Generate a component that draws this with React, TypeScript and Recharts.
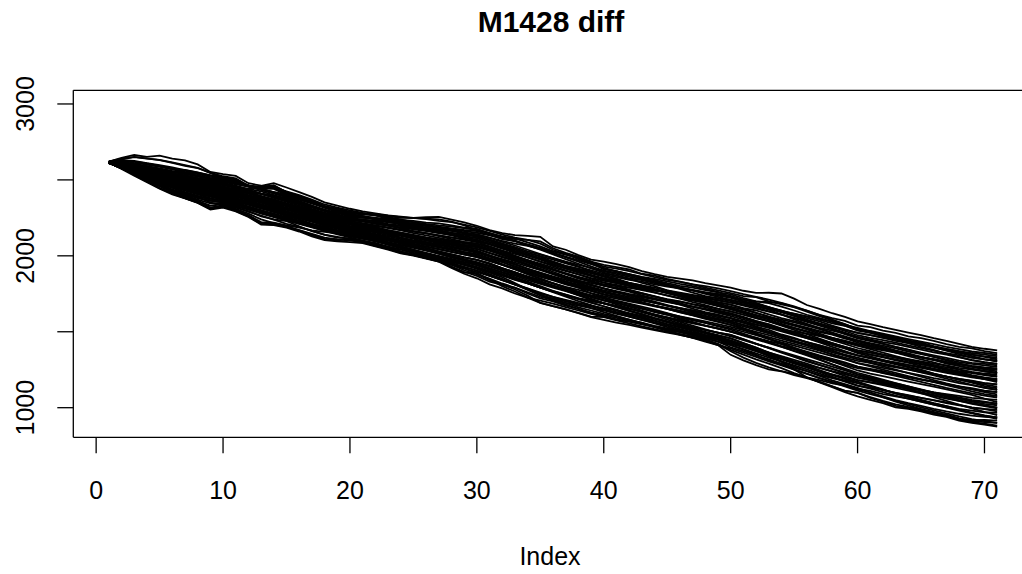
import React from 'react';
import { LineChart, Line, XAxis, YAxis, ReferenceLine } from 'recharts';

const TITLE = 'M1428 diff';
const X_LABEL = 'Index';

const INDEX = [
  1, 2, 3, 4, 5, 6, 7, 8, 9, 10,
  11, 12, 13, 14, 15, 16, 17, 18, 19, 20,
  21, 22, 23, 24, 25, 26, 27, 28, 29, 30,
  31, 32, 33, 34, 35, 36, 37, 38, 39, 40,
  41, 42, 43, 44, 45, 46, 47, 48, 49, 50,
  51, 52, 53, 54, 55, 56, 57, 58, 59, 60,
  61, 62, 63, 64, 65, 66, 67, 68, 69, 70, 71,
];

const X_TICKS = [0, 10, 20, 30, 40, 50, 60, 70];
const Y_TICKS = [1000, 1500, 2000, 2500, 3000];
const Y_LABELED = [1000, 2000, 3000];

const S01 = [2620,2645,2664,2652,2660,2640,2628,2602,2552,2538,2526,2478,2462,2450,2425,2400,2370,2338,2318,2300,2282,2268,2240,2220,2200,2180,2160,2143,2118,2092,2079,2050,2024,2008,1981,1962,1934,1915,1895,1868,1850,1822,1806,1779,1760,1741,1712,1698,1670,1650,1631,1604,1590,1562,1540,1522,1498,1481,1455,1438,1412,1395,1370,1352,1330,1314,1290,1276,1255,1240,1228];
const S02 = [2612,2598,2585,2570,2556,2538,2520,2509,2486,2470,2452,2440,2461,2478,2450,2420,2388,2352,2331,2310,2292,2280,2266,2258,2250,2254,2257,2238,2220,2198,2170,2150,2136,2131,2125,2062,2040,2005,1975,1962,1945,1925,1900,1880,1862,1850,1838,1820,1805,1790,1770,1756,1757,1752,1718,1676,1650,1622,1598,1568,1550,1530,1512,1495,1478,1458,1440,1420,1400,1388,1378];
const S03 = [2617,2608,2590,2583,2566,2551,2540,2529,2512,2502,2480,2465,2440,2418,2392,2371,2345,2322,2298,2270,2262,2240,2230,2211,2195,2186,2170,2152,2130,2116,2090,2072,2045,2020,1998,1975,1950,1928,1905,1882,1870,1851,1840,1820,1806,1788,1772,1755,1738,1723,1700,1685,1662,1640,1618,1600,1578,1556,1538,1517,1502,1480,1465,1442,1428,1405,1385,1370,1350,1334,1319];
const S04 = [2614,2601,2585,2570,2548,2530,2515,2498,2482,2469,2450,2432,2410,2390,2368,2340,2318,2296,2270,2249,2238,2226,2210,2198,2185,2172,2162,2150,2141,2134,2108,2080,2051,2020,1995,1960,1930,1902,1870,1843,1820,1800,1780,1760,1738,1718,1695,1675,1652,1634,1612,1590,1570,1548,1525,1505,1480,1460,1440,1418,1400,1385,1366,1350,1332,1318,1300,1290,1274,1262,1254];
const S05 = [2612,2596,2574,2560,2535,2518,2500,2482,2465,2447,2425,2400,2381,2355,2330,2302,2280,2258,2230,2207,2190,2178,2160,2150,2132,2120,2108,2100,2090,2081,2060,2035,2012,1990,1962,1940,1915,1890,1868,1843,1828,1812,1790,1775,1755,1738,1720,1706,1692,1679,1655,1640,1615,1590,1570,1548,1525,1508,1488,1467,1450,1432,1418,1400,1382,1365,1350,1332,1315,1300,1289];
const S06 = [2615,2590,2570,2548,2522,2505,2480,2462,2440,2425,2400,2382,2360,2340,2318,2300,2275,2260,2238,2217,2198,2180,2160,2145,2128,2110,2092,2078,2060,2045,2020,1995,1970,1940,1912,1880,1850,1822,1790,1765,1748,1730,1710,1690,1672,1655,1640,1622,1605,1590,1570,1548,1525,1502,1480,1458,1435,1412,1390,1368,1350,1335,1318,1300,1285,1270,1255,1240,1228,1215,1203];
const S07 = [2616,2585,2562,2535,2508,2488,2462,2440,2420,2403,2380,2358,2335,2315,2292,2270,2250,2228,2205,2185,2170,2152,2135,2118,2100,2085,2070,2055,2040,2028,2000,1978,1955,1930,1905,1880,1855,1830,1808,1785,1768,1750,1735,1718,1700,1682,1665,1648,1630,1612,1590,1565,1540,1518,1495,1470,1448,1425,1400,1378,1362,1350,1335,1320,1305,1290,1278,1262,1250,1240,1229];
const S08 = [2613,2582,2550,2525,2500,2472,2448,2422,2400,2381,2360,2338,2315,2290,2270,2248,2225,2205,2185,2164,2150,2132,2115,2098,2080,2062,2045,2028,2010,1992,1968,1942,1918,1895,1870,1845,1820,1795,1770,1746,1728,1710,1690,1672,1655,1638,1620,1602,1585,1568,1545,1522,1500,1478,1455,1432,1410,1388,1365,1344,1328,1312,1298,1282,1268,1250,1235,1220,1205,1190,1178];
const S09 = [2618,2598,2571,2560,2530,2512,2490,2471,2450,2436,2410,2398,2370,2342,2330,2298,2270,2250,2221,2196,2182,2160,2148,2120,2102,2090,2062,2048,2025,2010,1982,1960,1925,1902,1870,1848,1815,1790,1752,1726,1700,1682,1655,1630,1612,1585,1565,1540,1522,1501,1480,1462,1438,1418,1392,1370,1345,1322,1298,1270,1255,1240,1220,1205,1185,1172,1155,1140,1128,1112,1102];
const S10 = [2615,2602,2580,2572,2545,2520,2510,2488,2470,2458,2432,2415,2390,2372,2340,2318,2290,2268,2240,2217,2205,2190,2168,2152,2135,2118,2100,2090,2072,2063,2040,2012,1990,1962,1935,1908,1880,1850,1828,1804,1782,1765,1740,1718,1700,1678,1652,1630,1612,1590,1560,1535,1512,1482,1460,1430,1402,1378,1345,1319,1305,1290,1270,1255,1238,1220,1205,1190,1178,1162,1153];
const S11 = [2620,2612,2598,2582,2560,2542,2530,2512,2495,2480,2462,2440,2425,2400,2378,2352,2325,2298,2262,2238,2228,2210,2198,2180,2160,2148,2130,2110,2092,2081,2052,2028,1995,1968,1940,1912,1885,1860,1830,1804,1790,1772,1755,1735,1712,1698,1680,1660,1640,1621,1598,1572,1550,1522,1498,1470,1445,1418,1390,1359,1338,1315,1292,1270,1250,1225,1205,1185,1165,1142,1128];
const S12 = [2612,2590,2568,2540,2515,2490,2470,2448,2428,2414,2390,2372,2350,2320,2302,2280,2255,2225,2200,2175,2158,2140,2115,2098,2070,2050,2030,2010,1990,1974,1950,1918,1890,1860,1828,1800,1770,1740,1712,1687,1670,1650,1632,1612,1595,1572,1555,1538,1520,1501,1480,1455,1430,1405,1385,1360,1338,1315,1292,1270,1250,1228,1210,1190,1170,1150,1130,1112,1095,1080,1067];
const S13 = [2614,2585,2558,2528,2500,2478,2455,2432,2410,2392,2370,2350,2322,2300,2275,2252,2228,2200,2178,2154,2140,2120,2102,2085,2062,2040,2018,1998,1975,1957,1930,1905,1880,1852,1828,1800,1780,1755,1730,1707,1690,1670,1650,1632,1612,1592,1575,1558,1540,1523,1500,1478,1452,1430,1408,1385,1362,1340,1318,1294,1278,1262,1245,1230,1212,1195,1180,1162,1148,1130,1117];
const S14 = [2613,2580,2545,2515,2485,2455,2430,2405,2380,2359,2338,2318,2295,2275,2250,2228,2205,2185,2165,2143,2125,2110,2090,2072,2052,2035,2015,1995,1975,1957,1930,1902,1878,1850,1822,1798,1772,1748,1728,1707,1680,1655,1630,1605,1580,1555,1530,1510,1495,1479,1450,1420,1395,1365,1338,1310,1282,1255,1225,1196,1182,1165,1150,1135,1118,1100,1085,1068,1052,1040,1027];
const S15 = [2610,2578,2548,2520,2490,2462,2438,2412,2390,2370,2345,2320,2300,2275,2250,2228,2200,2178,2155,2132,2115,2095,2075,2052,2032,2010,1988,1965,1942,1921,1895,1870,1842,1818,1790,1765,1740,1715,1692,1668,1645,1620,1598,1575,1550,1528,1505,1480,1458,1434,1410,1388,1362,1340,1315,1290,1262,1238,1210,1181,1165,1148,1130,1112,1095,1078,1060,1045,1030,1015,1001];
const S16 = [2619,2620,2605,2590,2572,2555,2540,2522,2505,2491,2478,2455,2440,2420,2398,2370,2345,2318,2292,2270,2258,2242,2225,2210,2190,2172,2155,2135,2115,2099,2075,2048,2020,1990,1962,1932,1905,1878,1850,1824,1808,1790,1775,1758,1740,1722,1705,1690,1672,1657,1635,1612,1590,1570,1548,1528,1505,1485,1462,1443,1420,1400,1378,1358,1335,1315,1295,1275,1258,1242,1229];
const S17 = [2616,2592,2575,2550,2530,2508,2485,2465,2442,2425,2402,2380,2358,2335,2312,2290,2265,2240,2218,2196,2180,2165,2150,2135,2118,2102,2088,2072,2060,2045,2018,1990,1965,1940,1912,1885,1860,1835,1820,1804,1785,1768,1750,1732,1715,1700,1682,1668,1650,1634,1612,1590,1568,1545,1522,1500,1478,1452,1430,1408,1385,1362,1340,1318,1298,1275,1255,1235,1215,1200,1188];
const S18 = [2615,2598,2580,2562,2542,2525,2505,2485,2465,2447,2428,2410,2388,2370,2345,2322,2300,2275,2250,2228,2215,2200,2188,2172,2160,2148,2135,2122,2110,2099,2075,2050,2028,2002,1978,1955,1930,1908,1885,1863,1842,1820,1800,1778,1758,1738,1718,1698,1678,1657,1632,1605,1580,1552,1525,1500,1472,1445,1420,1393,1372,1350,1330,1308,1288,1268,1248,1228,1208,1188,1168];
const S19 = [2611,2586,2560,2532,2505,2480,2458,2435,2420,2403,2378,2352,2330,2305,2282,2258,2235,2210,2188,2164,2148,2130,2112,2095,2078,2060,2042,2025,2008,1992,1965,1940,1915,1888,1862,1838,1812,1790,1768,1746,1728,1708,1690,1670,1650,1630,1610,1590,1568,1545,1515,1485,1455,1425,1395,1365,1335,1305,1275,1245,1225,1208,1190,1172,1155,1138,1120,1102,1085,1060,1037];
const S20 = [2614,2575,2540,2508,2475,2448,2420,2395,2368,2348,2325,2305,2282,2260,2238,2215,2192,2172,2150,2132,2115,2098,2080,2060,2040,2020,2000,1980,1958,1939,1908,1878,1850,1820,1790,1760,1732,1702,1675,1648,1625,1600,1578,1555,1530,1508,1482,1458,1435,1412,1385,1358,1330,1305,1278,1252,1225,1198,1172,1146,1130,1115,1098,1082,1065,1050,1035,1018,1002,990,976];
const S21 = [2617,2588,2555,2530,2500,2475,2450,2422,2400,2381,2362,2342,2325,2305,2285,2262,2240,2218,2198,2175,2160,2145,2128,2110,2092,2075,2060,2042,2025,2010,1985,1958,1932,1905,1880,1855,1830,1810,1788,1765,1740,1718,1695,1672,1650,1628,1608,1585,1565,1545,1522,1500,1478,1455,1432,1410,1388,1365,1342,1319,1295,1272,1250,1228,1205,1182,1160,1140,1120,1102,1087];
const S22 = [2618,2605,2590,2570,2552,2532,2515,2500,2482,2469,2445,2420,2395,2370,2345,2320,2295,2268,2242,2217,2200,2182,2162,2142,2122,2102,2082,2062,2045,2028,2000,1972,1945,1915,1888,1858,1830,1800,1772,1746,1728,1710,1690,1672,1655,1638,1620,1602,1585,1568,1545,1522,1500,1478,1455,1432,1410,1388,1365,1344,1325,1305,1285,1265,1245,1225,1205,1185,1168,1152,1138];
const S23 = [2616,2596,2578,2558,2538,2515,2495,2475,2455,2436,2415,2395,2372,2350,2325,2305,2282,2260,2238,2217,2200,2185,2170,2152,2138,2122,2108,2095,2082,2070,2045,2020,1995,1972,1948,1922,1900,1878,1855,1835,1820,1805,1790,1775,1760,1745,1732,1718,1705,1692,1672,1652,1632,1612,1592,1572,1552,1532,1512,1492,1478,1462,1448,1432,1418,1402,1388,1372,1360,1350,1340];
const S24 = [2612,2590,2565,2540,2518,2495,2472,2452,2430,2414,2392,2372,2350,2328,2305,2285,2262,2240,2218,2196,2182,2170,2155,2140,2125,2110,2095,2082,2072,2063,2035,2005,1975,1945,1915,1885,1855,1828,1805,1785,1762,1740,1718,1695,1672,1650,1628,1605,1582,1559,1525,1490,1455,1420,1388,1352,1318,1285,1252,1220,1195,1170,1145,1120,1095,1070,1045,1020,995,972,951];
const S25 = [2613,2585,2555,2530,2500,2475,2450,2428,2410,2392,2372,2352,2330,2310,2288,2268,2248,2228,2205,2185,2165,2142,2120,2098,2075,2052,2030,2010,1990,1974,1945,1918,1890,1862,1832,1802,1772,1742,1712,1687,1662,1638,1615,1590,1568,1545,1522,1500,1478,1456,1425,1395,1365,1335,1305,1278,1248,1218,1190,1161,1140,1118,1095,1075,1052,1030,1010,988,965,945,926];
const S26 = [2620,2630,2625,2610,2598,2582,2565,2548,2530,2513,2495,2462,2440,2415,2390,2360,2330,2305,2282,2260,2252,2240,2230,2218,2205,2195,2185,2175,2162,2152,2135,2115,2095,2070,2045,2020,1995,1970,1945,1921,1898,1875,1852,1828,1805,1782,1758,1735,1718,1701,1680,1660,1635,1612,1590,1565,1540,1515,1485,1457,1438,1420,1400,1382,1362,1345,1328,1310,1295,1288,1279];
const S27 = [2612,2578,2535,2498,2465,2430,2405,2380,2362,2359,2338,2315,2290,2265,2240,2215,2190,2165,2142,2122,2100,2078,2055,2030,2008,1985,1962,1940,1915,1893,1868,1840,1812,1785,1758,1730,1705,1680,1655,1629,1605,1580,1556,1532,1508,1485,1460,1435,1412,1390,1362,1335,1305,1278,1250,1222,1195,1168,1140,1112,1090,1068,1045,1025,1002,982,962,942,925,912,900];
const S28 = [2615,2572,2528,2484,2442,2405,2378,2348,2304,2318,2292,2256,2206,2202,2186,2160,2128,2104,2096,2090,2084,2062,2041,2016,2002,1982,1962,1921,1882,1852,1812,1786,1752,1725,1705,1686,1662,1640,1618,1600,1580,1566,1548,1530,1512,1498,1478,1462,1448,1420,1398,1372,1350,1325,1300,1280,1262,1240,1220,1200,1180,1160,1142,1122,1102,1085,1065,1045,1025,1010,995];
const S29 = [2614,2588,2560,2530,2500,2470,2440,2418,2392,2370,2345,2322,2300,2270,2248,2222,2200,2181,2160,2138,2120,2098,2072,2050,2030,2010,1988,1955,1920,1880,1840,1812,1778,1738,1690,1668,1648,1622,1596,1578,1560,1546,1528,1510,1494,1480,1462,1442,1412,1348,1312,1280,1252,1240,1222,1200,1182,1160,1145,1125,1110,1090,1075,1060,1040,1020,1002,985,968,950,935];
const S30 = [2610,2584,2552,2528,2498,2480,2452,2425,2401,2385,2360,2340,2312,2295,2270,2248,2225,2198,2180,2162,2140,2121,2100,2080,2058,2036,2015,1990,1968,1940,1918,1892,1870,1840,1815,1790,1768,1742,1718,1690,1668,1640,1618,1590,1568,1542,1520,1495,1470,1440,1410,1378,1342,1302,1252,1200,1166,1135,1102,1074,1052,1030,1002,992,975,955,940,915,900,888,876];
const S31 = [2618,2632,2611,2602,2590,2571,2566,2549,2530,2517,2505,2462,2450,2441,2402,2380,2348,2322,2305,2281,2272,2270,2248,2236,2230,2218,2214,2200,2185,2177,2150,2128,2115,2088,2062,2030,2008,1990,1962,1941,1925,1910,1882,1870,1848,1830,1812,1790,1772,1754,1735,1728,1700,1680,1662,1640,1612,1590,1572,1541,1530,1508,1492,1470,1458,1440,1418,1401,1390,1372,1360];
const S32 = [2612,2582,2541,2520,2478,2450,2412,2390,2350,2337,2318,2295,2260,2240,2228,2195,2162,2140,2125,2111,2100,2085,2060,2042,2020,1995,1978,1942,1905,1878,1850,1818,1790,1752,1720,1700,1672,1650,1628,1609,1592,1575,1560,1538,1522,1505,1488,1470,1450,1412,1382,1348,1310,1285,1252,1225,1195,1170,1148,1121,1100,1075,1050,1030,1012,992,975,960,948,940,936];
const S33 = [2616,2610,2598,2590,2575,2560,2548,2528,2510,2502,2488,2460,2445,2452,2410,2385,2350,2318,2288,2255,2250,2246,2232,2222,2210,2200,2192,2180,2170,2162,2138,2110,2098,2075,2052,2018,1990,1962,1930,1902,1888,1870,1855,1840,1820,1802,1790,1775,1760,1746,1722,1700,1688,1665,1640,1612,1590,1565,1540,1507,1492,1475,1458,1440,1420,1400,1380,1362,1340,1320,1304];
const S34 = [2614,2575,2540,2500,2462,2430,2400,2370,2345,2348,2320,2290,2265,2238,2210,2190,2165,2138,2120,2115,2098,2072,2060,2040,2018,2002,1985,1960,1940,1921,1890,1860,1820,1780,1745,1712,1690,1660,1640,1617,1600,1580,1558,1530,1508,1480,1462,1448,1420,1381,1350,1318,1290,1260,1228,1200,1170,1140,1112,1097,1070,1045,1022,1005,990,968,955,930,918,920,915];
const S35 = [2620,2612,2590,2582,2562,2540,2528,2511,2498,2487,2470,2455,2440,2445,2412,2390,2350,2320,2300,2285,2278,2265,2262,2250,2250,2242,2230,2222,2205,2187,2165,2140,2120,2105,2080,2040,2012,1978,1950,1913,1900,1880,1860,1838,1810,1790,1772,1750,1730,1710,1690,1680,1660,1640,1610,1590,1568,1540,1515,1492,1478,1460,1440,1425,1410,1395,1378,1362,1350,1338,1330];
const S36 = [2612,2578,2532,2492,2448,2412,2380,2352,2315,2326,2300,2262,2215,2210,2192,2168,2140,2112,2108,2107,2090,2070,2050,2028,2010,1992,1975,1950,1925,1903,1870,1840,1810,1780,1742,1720,1700,1680,1665,1648,1630,1610,1590,1572,1550,1532,1512,1495,1475,1456,1425,1395,1362,1330,1300,1270,1240,1215,1192,1171,1145,1120,1092,1070,1048,1028,1010,992,980,970,966];
const S37 = [2615,2598,2582,2565,2550,2532,2515,2498,2480,2465,2448,2430,2410,2398,2372,2345,2320,2295,2270,2243,2238,2232,2220,2212,2198,2188,2175,2165,2150,2141,2120,2098,2080,2065,2045,2030,2010,1985,1958,1929,1915,1900,1880,1860,1842,1828,1812,1800,1785,1768,1748,1730,1712,1690,1668,1640,1610,1580,1550,1517,1495,1470,1450,1425,1400,1380,1355,1335,1312,1298,1289];
const S38 = [2613,2580,2550,2518,2490,2462,2440,2410,2392,2370,2350,2325,2300,2278,2255,2232,2210,2190,2170,2154,2138,2115,2090,2062,2040,2012,1992,1965,1940,1914,1880,1848,1812,1775,1740,1705,1680,1650,1622,1601,1582,1568,1552,1535,1515,1498,1478,1458,1435,1398,1372,1345,1318,1290,1262,1240,1215,1195,1180,1161,1140,1118,1098,1080,1065,1048,1030,1015,1000,992,986];
const S39 = [2618,2625,2618,2600,2585,2570,2552,2538,2520,2509,2490,2460,2455,2460,2420,2395,2360,2328,2310,2291,2280,2268,2255,2240,2220,2205,2185,2165,2148,2127,2100,2070,2040,2010,1985,1955,1925,1900,1875,1851,1835,1822,1805,1790,1772,1758,1742,1725,1710,1692,1680,1668,1650,1635,1620,1602,1585,1568,1545,1526,1505,1488,1470,1452,1435,1418,1400,1385,1370,1360,1350];
const S40 = [2610,2580,2545,2505,2460,2422,2395,2362,2330,2341,2310,2278,2240,2215,2195,2170,2145,2120,2108,2101,2090,2068,2050,2022,2005,1985,1968,1930,1895,1868,1830,1808,1790,1760,1730,1712,1690,1672,1655,1640,1618,1600,1578,1560,1540,1518,1498,1478,1455,1434,1405,1375,1340,1305,1270,1240,1210,1180,1155,1131,1100,1070,1040,1015,990,972,950,930,912,905,900];
const S41 = [2617,2600,2585,2566,2542,2522,2505,2488,2470,2451,2440,2420,2408,2392,2370,2348,2322,2300,2285,2264,2255,2250,2240,2228,2222,2210,2200,2192,2182,2170,2150,2122,2100,2068,2040,2010,1978,1948,1918,1890,1870,1848,1822,1800,1772,1750,1728,1705,1685,1665,1645,1625,1600,1580,1562,1540,1518,1495,1470,1443,1425,1408,1390,1370,1352,1335,1318,1300,1288,1278,1269];
const S42 = [2611,2588,2562,2532,2502,2478,2450,2428,2412,2399,2372,2345,2318,2290,2262,2240,2212,2190,2165,2143,2125,2102,2080,2055,2030,2005,1978,1950,1928,1903,1870,1842,1812,1785,1752,1730,1710,1690,1672,1656,1640,1622,1605,1585,1565,1548,1530,1512,1495,1479,1452,1422,1392,1362,1335,1305,1280,1255,1232,1210,1190,1172,1152,1132,1112,1095,1078,1060,1045,1035,1027];
const S43 = [2621,2640,2652,2642,2630,2612,2592,2578,2548,2524,2510,2460,2440,2420,2405,2380,2352,2325,2300,2277,2260,2245,2225,2205,2188,2170,2152,2138,2122,2106,2080,2058,2030,2005,1980,1958,1932,1912,1892,1874,1860,1842,1830,1812,1798,1785,1772,1760,1750,1737,1712,1690,1662,1632,1605,1575,1548,1520,1495,1467,1445,1422,1400,1380,1358,1335,1312,1290,1268,1252,1239];
const S44 = [2612,2585,2555,2526,2498,2470,2442,2420,2400,2385,2368,2350,2332,2315,2292,2272,2250,2228,2205,2185,2160,2135,2112,2090,2062,2040,2015,1990,1970,1949,1920,1890,1860,1830,1800,1770,1745,1718,1692,1668,1640,1612,1590,1562,1540,1515,1492,1470,1448,1425,1400,1372,1345,1318,1290,1265,1240,1220,1200,1181,1168,1155,1140,1128,1115,1100,1090,1078,1065,1058,1052];
const S45 = [2615,2600,2588,2572,2552,2535,2518,2500,2488,2473,2452,2430,2408,2385,2362,2338,2310,2285,2260,2234,2228,2218,2205,2195,2180,2170,2160,2150,2138,2127,2105,2080,2058,2030,2008,1985,1962,1940,1920,1898,1880,1862,1845,1828,1810,1792,1775,1760,1745,1728,1700,1672,1645,1615,1582,1552,1522,1492,1460,1428,1405,1385,1362,1340,1318,1298,1275,1252,1232,1218,1208];
const S46 = [2613,2578,2540,2512,2480,2450,2420,2395,2375,2363,2340,2310,2285,2260,2235,2210,2188,2165,2148,2128,2112,2098,2085,2070,2055,2040,2025,2008,1990,1974,1950,1920,1892,1862,1832,1805,1780,1758,1740,1726,1705,1685,1665,1645,1622,1600,1580,1558,1535,1514,1488,1460,1432,1402,1372,1345,1315,1285,1258,1230,1208,1185,1162,1140,1118,1095,1072,1050,1030,1015,1001];
const S47 = [2618,2608,2596,2582,2568,2552,2540,2525,2510,2495,2478,2458,2432,2410,2385,2360,2330,2302,2275,2249,2232,2215,2200,2182,2165,2150,2135,2120,2105,2091,2062,2032,2002,1972,1940,1910,1882,1858,1835,1812,1800,1790,1780,1770,1762,1750,1740,1732,1722,1710,1692,1672,1650,1628,1605,1580,1555,1530,1505,1477,1460,1445,1428,1410,1392,1375,1360,1345,1330,1318,1309];
const S48 = [2614,2590,2565,2540,2515,2490,2465,2442,2422,2407,2390,2372,2352,2332,2310,2290,2270,2250,2228,2207,2185,2165,2142,2120,2098,2078,2058,2038,2018,1999,1970,1940,1910,1880,1850,1818,1790,1760,1732,1707,1690,1672,1655,1638,1620,1602,1585,1568,1550,1532,1510,1488,1465,1442,1420,1398,1375,1352,1330,1309,1295,1280,1265,1250,1235,1220,1205,1190,1175,1162,1153];
const S49 = [2616,2595,2578,2555,2535,2512,2495,2475,2460,2443,2418,2392,2365,2340,2312,2288,2262,2235,2210,2185,2172,2160,2148,2135,2122,2110,2095,2082,2068,2056,2032,2008,1982,1958,1932,1908,1885,1862,1842,1824,1800,1778,1755,1732,1710,1688,1665,1645,1625,1603,1580,1558,1535,1512,1490,1468,1445,1422,1400,1378,1362,1345,1330,1315,1298,1282,1265,1250,1235,1225,1218];
const S50 = [2615,2590,2572,2548,2522,2500,2478,2458,2440,2421,2405,2390,2372,2352,2332,2310,2290,2268,2245,2221,2200,2182,2162,2145,2125,2105,2088,2070,2052,2035,2005,1975,1945,1915,1885,1858,1830,1805,1780,1757,1740,1722,1705,1690,1672,1655,1640,1622,1605,1590,1560,1530,1500,1470,1440,1410,1380,1350,1322,1294,1272,1250,1230,1208,1188,1168,1148,1128,1108,1090,1077];
const S51 = [2619,2628,2620,2608,2592,2575,2560,2545,2528,2513,2495,2462,2450,2458,2418,2390,2358,2325,2298,2270,2262,2250,2238,2225,2212,2200,2185,2170,2155,2141,2118,2092,2068,2040,2012,1985,1958,1930,1898,1863,1842,1820,1800,1778,1755,1732,1710,1690,1668,1648,1622,1595,1568,1540,1512,1485,1455,1425,1398,1368,1350,1332,1312,1295,1275,1258,1240,1222,1205,1195,1188];
const S52 = [2610,2580,2542,2502,2458,2420,2388,2360,2318,2333,2305,2268,2222,2218,2200,2185,2168,2158,2148,2137,2118,2098,2078,2055,2035,2015,1995,1975,1958,1939,1910,1880,1852,1820,1792,1768,1745,1722,1705,1687,1668,1650,1632,1612,1595,1578,1560,1540,1520,1501,1475,1450,1425,1400,1375,1350,1328,1305,1282,1260,1245,1230,1215,1200,1185,1170,1155,1138,1122,1110,1102];
const S53 = [2618,2605,2590,2575,2560,2542,2528,2510,2495,2480,2455,2432,2408,2382,2355,2330,2305,2280,2255,2228,2212,2198,2182,2168,2150,2135,2118,2102,2085,2070,2042,2012,1985,1955,1925,1895,1865,1838,1810,1785,1762,1740,1718,1698,1675,1655,1635,1615,1595,1576,1560,1545,1530,1515,1500,1488,1472,1458,1440,1418,1402,1385,1368,1350,1335,1318,1300,1285,1270,1258,1249];
const S54 = [2612,2578,2538,2505,2470,2438,2410,2382,2362,2355,2330,2305,2278,2255,2232,2212,2192,2175,2160,2149,2130,2110,2085,2062,2040,2018,1995,1972,1950,1928,1900,1872,1845,1818,1790,1765,1740,1718,1700,1687,1662,1638,1612,1588,1562,1538,1512,1490,1465,1443,1415,1385,1355,1325,1295,1265,1235,1205,1175,1146,1125,1102,1080,1060,1040,1020,1000,980,962,948,936];
const S55 = [2616,2595,2575,2552,2530,2508,2488,2465,2448,2429,2412,2395,2378,2360,2340,2320,2300,2280,2260,2238,2225,2212,2200,2188,2175,2162,2150,2138,2128,2116,2090,2062,2032,2005,1975,1945,1918,1892,1868,1843,1828,1812,1795,1780,1762,1745,1728,1712,1695,1679,1652,1625,1598,1570,1542,1515,1488,1460,1435,1408,1392,1378,1362,1348,1332,1318,1302,1288,1275,1265,1259];
const S56 = [2613,2582,2552,2525,2495,2470,2445,2420,2398,2377,2355,2335,2312,2290,2270,2250,2228,2208,2185,2164,2150,2135,2118,2102,2088,2070,2055,2040,2025,2010,1978,1945,1912,1880,1850,1820,1792,1765,1740,1718,1692,1665,1640,1615,1590,1565,1540,1515,1492,1470,1445,1420,1395,1370,1345,1320,1295,1270,1245,1220,1200,1180,1160,1140,1120,1100,1080,1060,1040,1025,1016];
const S57 = [2617,2600,2585,2565,2545,2525,2508,2490,2472,2458,2435,2410,2385,2360,2335,2310,2285,2260,2232,2207,2190,2170,2150,2132,2112,2092,2075,2055,2038,2020,1995,1968,1942,1915,1890,1865,1842,1818,1795,1773,1758,1742,1728,1712,1695,1680,1665,1650,1635,1621,1595,1568,1540,1512,1485,1458,1430,1400,1372,1344,1328,1312,1295,1280,1262,1245,1230,1215,1200,1188,1178];
const S58 = [2614,2576,2534,2490,2445,2410,2380,2350,2310,2328,2296,2260,2210,2205,2190,2165,2135,2108,2100,2115,2088,2065,2045,2020,2004,1985,1966,1925,1890,1886,1845,1800,1765,1725,1690,1668,1648,1625,1600,1597,1575,1555,1535,1518,1500,1485,1470,1450,1418,1372,1330,1295,1265,1240,1215,1195,1170,1140,1110,1097,1065,1040,1012,998,982,962,945,922,905,895,882];
const S59 = [2620,2636,2650,2640,2632,2615,2598,2580,2545,2513,2500,2458,2452,2465,2418,2392,2360,2328,2305,2281,2278,2275,2265,2255,2248,2245,2240,2225,2200,2170,2148,2122,2110,2105,2095,2050,2020,1995,1962,1913,1898,1880,1862,1848,1832,1815,1800,1782,1762,1728,1710,1700,1695,1688,1662,1632,1602,1575,1548,1517,1500,1482,1462,1442,1420,1398,1375,1352,1330,1318,1309];
const S60 = [2612,2592,2565,2540,2515,2490,2468,2445,2428,2414,2390,2365,2340,2315,2290,2265,2240,2218,2195,2171,2150,2128,2108,2085,2062,2040,2018,1998,1978,1957,1935,1912,1890,1865,1842,1818,1795,1775,1755,1734,1718,1700,1685,1668,1650,1632,1612,1595,1578,1559,1535,1512,1490,1465,1440,1418,1395,1372,1350,1329,1310,1290,1272,1252,1232,1212,1192,1172,1150,1132,1117];

const SERIES = [
  S01, S02, S03, S04, S05, S06, S07, S08, S09, S10,
  S11, S12, S13, S14, S15, S16, S17, S18, S19, S20,
  S21, S22, S23, S24, S25, S26, S27, S28, S29, S30,
  S31, S32, S33, S34, S35, S36, S37, S38, S39, S40,
  S41, S42, S43, S44, S45, S46, S47, S48, S49, S50,
  S51, S52, S53, S54, S55, S56, S57, S58, S59, S60,
];

const rows = INDEX.map((x, i) => {
  const r: Record<string, number> = { x };
  SERIES.forEach((s, k) => {
    r['s' + k] = s[i];
  });
  return r;
});

const FONT = '"Liberation Sans", Arial, Helvetica, sans-serif';

const XTick = (props: any) => {
  const { x, payload } = props;
  return (
    <text x={x} y={499} textAnchor="middle" fontSize={25} fontFamily={FONT} fill="#000">
      {payload.value}
    </text>
  );
};

const YTick = (props: any) => {
  const { y, payload } = props;
  if (!Y_LABELED.includes(payload.value)) return <g />;
  return (
    <text
      x={34}
      y={y}
      transform={`rotate(-90, 34, ${y})`}
      textAnchor="middle"
      fontSize={25}
      fontFamily={FONT}
      fill="#000"
    >
      {payload.value}
    </text>
  );
};

export default function App() {
  return (
    <div
      style={{
        position: 'absolute',
        left: 0,
        top: 0,
        width: 1022,
        height: 574,
        background: '#fff',
        overflow: 'hidden',
      }}
    >
      <LineChart
        width={1022}
        height={574}
        data={rows}
        margin={{ top: 90.3, right: -10.7, bottom: 0, left: 0 }}
      >
        <XAxis
          dataKey="x"
          type="number"
          domain={[-1.8, 73.8]}
          ticks={X_TICKS}
          interval={0}
          height={136.7}
          tickSize={16}
          axisLine={{ stroke: '#000', strokeWidth: 1.3 }}
          tickLine={{ stroke: '#000', strokeWidth: 1.3 }}
          tick={<XTick />}
          allowDataOverflow
        />
        <YAxis
          type="number"
          domain={[805, 3090]}
          ticks={Y_TICKS}
          interval={0}
          width={73.3}
          tickSize={16}
          axisLine={{ stroke: '#000', strokeWidth: 1.3 }}
          tickLine={{ stroke: '#000', strokeWidth: 1.3 }}
          tick={<YTick />}
          allowDataOverflow
        />
        <ReferenceLine y={3090} stroke="#000" strokeWidth={1.3} />
        {SERIES.map((_, k) => (
          <Line
            key={k}
            dataKey={'s' + k}
            type="linear"
            stroke="#000"
            strokeWidth={1.8}
            dot={false}
            activeDot={false}
            isAnimationActive={false}
          />
        ))}
      </LineChart>
      <svg
        width={1022}
        height={574}
        style={{ position: 'absolute', left: 0, top: 0, pointerEvents: 'none' }}
      >
        <text x={551} y={32} textAnchor="middle" fontSize={30} fontWeight="bold" fontFamily={FONT} fill="#000">
          {TITLE}
        </text>
        <text x={550} y={565} textAnchor="middle" fontSize={25} fontFamily={FONT} fill="#000">
          {X_LABEL}
        </text>
      </svg>
    </div>
  );
}
